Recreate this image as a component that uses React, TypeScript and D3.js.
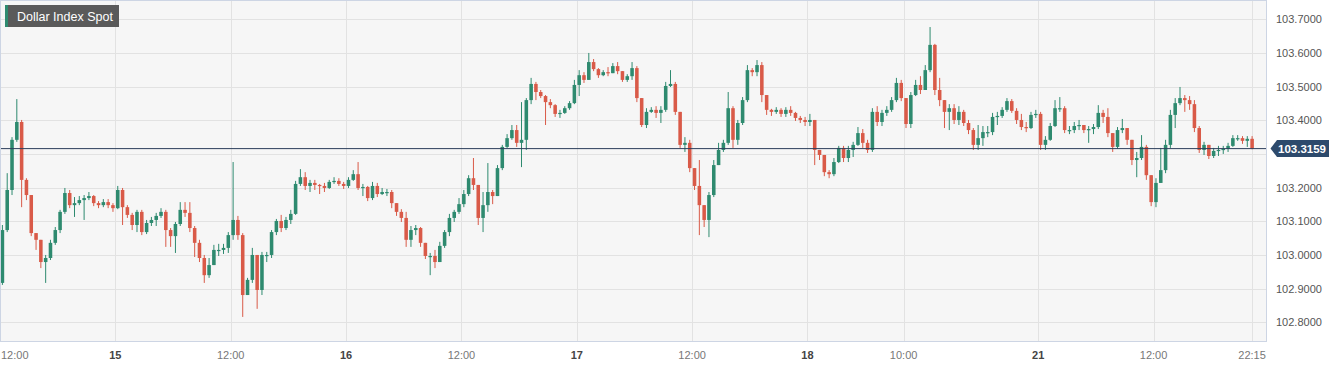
import { useMemo } from "react";
import * as d3 from "d3";

// 30-minute candles, 14th 12:00 -> 21st 22:15 (weekend gap removed)
const firstOpen = 102.917;

const closes = [
  103.074, 103.193, 103.342, 103.395, 103.223, 103.178, 103.065, 103.045, 102.979, 102.991,
  103.036, 103.074, 103.128, 103.184, 103.148, 103.154, 103.163, 103.169, 103.175, 103.154,
  103.148, 103.157, 103.148, 103.139, 103.193, 103.142, 103.119, 103.089, 103.128, 103.068,
  103.095, 103.104, 103.116, 103.128, 103.074, 103.056, 103.092, 103.134, 103.125, 103.080,
  103.036, 102.991, 102.940, 102.970, 103.015, 103.015, 103.021, 103.059, 103.104, 103.059,
  102.881, 102.926, 103.000, 102.896, 103.000, 103.000, 103.068, 103.101, 103.080, 103.104,
  103.122, 103.211, 103.231, 103.205, 103.214, 103.208, 103.205, 103.199, 103.217, 103.220,
  103.211, 103.205, 103.223, 103.240, 103.199, 103.202, 103.169, 103.205, 103.181, 103.187,
  103.187, 103.154, 103.128, 103.110, 103.045, 103.074, 103.080, 103.036, 102.997, 102.997,
  102.979, 103.027, 103.068, 103.110, 103.128, 103.151, 103.181, 103.228, 103.208, 103.110,
  103.148, 103.187, 103.175, 103.258, 103.321, 103.347, 103.371, 103.333, 103.342, 103.460,
  103.508, 103.484, 103.472, 103.454, 103.445, 103.419, 103.422, 103.436, 103.451, 103.505,
  103.534, 103.520, 103.573, 103.552, 103.534, 103.543, 103.540, 103.561, 103.546, 103.520,
  103.531, 103.555, 103.466, 103.386, 103.425, 103.431, 103.422, 103.431, 103.502, 103.508,
  103.425, 103.327, 103.333, 103.258, 103.205, 103.148, 103.104, 103.178, 103.267, 103.312,
  103.333, 103.436, 103.342, 103.392, 103.460, 103.549, 103.543, 103.564, 103.475, 103.431,
  103.425, 103.431, 103.419, 103.431, 103.422, 103.407, 103.401, 103.395, 103.401, 103.312,
  103.297, 103.246, 103.240, 103.276, 103.318, 103.288, 103.312, 103.327, 103.362, 103.333,
  103.312, 103.425, 103.395, 103.422, 103.431, 103.460, 103.511, 103.466, 103.389, 103.475,
  103.505, 103.490, 103.549, 103.624, 103.490, 103.460, 103.425, 103.436, 103.401, 103.425,
  103.392, 103.371, 103.327, 103.347, 103.365, 103.365, 103.410, 103.413, 103.431, 103.457,
  103.428, 103.401, 103.380, 103.377, 103.416, 103.419, 103.327, 103.342, 103.383, 103.436,
  103.436, 103.371, 103.371, 103.383, 103.386, 103.371, 103.374, 103.380, 103.422, 103.410,
  103.362, 103.321, 103.371, 103.377, 103.342, 103.282, 103.288, 103.321, 103.237, 103.157,
  103.214, 103.252, 103.327, 103.416, 103.451, 103.466, 103.460, 103.448, 103.377, 103.312,
  103.327, 103.294, 103.309, 103.312, 103.315, 103.324, 103.347, 103.347, 103.339, 103.345,
  103.3159
];

const highs = [
  103.089, 103.243, 103.350, 103.463, 103.401, 103.228, 103.178, 103.065, 103.045, 103.000,
  103.045, 103.083, 103.134, 103.199, 103.193, 103.172, 103.175, 103.178, 103.187, 103.178,
  103.160, 103.166, 103.166, 103.154, 103.205, 103.199, 103.148, 103.125, 103.134, 103.134,
  103.104, 103.113, 103.125, 103.139, 103.134, 103.080, 103.098, 103.157, 103.157, 103.157,
  103.086, 103.045, 103.000, 102.991, 103.030, 103.033, 103.033, 103.068, 103.276, 103.116,
  103.065, 102.932, 103.021, 102.976, 103.009, 103.009, 103.074, 103.107, 103.119, 103.113,
  103.134, 103.220, 103.255, 103.246, 103.223, 103.223, 103.211, 103.214, 103.223, 103.231,
  103.228, 103.217, 103.231, 103.252, 103.276, 103.211, 103.205, 103.217, 103.214, 103.199,
  103.196, 103.193, 103.154, 103.136, 103.128, 103.086, 103.089, 103.083, 103.036, 103.006,
  103.015, 103.039, 103.074, 103.122, 103.134, 103.169, 103.193, 103.237, 103.288, 103.205,
  103.187, 103.273, 103.193, 103.267, 103.327, 103.359, 103.386, 103.386, 103.454, 103.466,
  103.526, 103.514, 103.490, 103.475, 103.463, 103.448, 103.431, 103.442, 103.457, 103.520,
  103.549, 103.543, 103.600, 103.582, 103.555, 103.549, 103.558, 103.570, 103.573, 103.543,
  103.537, 103.573, 103.561, 103.448, 103.436, 103.439, 103.442, 103.442, 103.514, 103.549,
  103.514, 103.425, 103.350, 103.342, 103.258, 103.282, 103.148, 103.187, 103.282, 103.333,
  103.342, 103.484, 103.442, 103.401, 103.469, 103.564, 103.555, 103.579, 103.573, 103.460,
  103.434, 103.439, 103.436, 103.439, 103.442, 103.425, 103.413, 103.410, 103.419, 103.401,
  103.312, 103.294, 103.252, 103.288, 103.324, 103.324, 103.324, 103.336, 103.380, 103.374,
  103.342, 103.436, 103.442, 103.431, 103.442, 103.469, 103.526, 103.520, 103.460, 103.484,
  103.520, 103.531, 103.564, 103.677, 103.627, 103.526, 103.445, 103.448, 103.448, 103.442,
  103.431, 103.401, 103.377, 103.386, 103.383, 103.383, 103.422, 103.425, 103.439, 103.466,
  103.463, 103.436, 103.419, 103.395, 103.425, 103.431, 103.425, 103.353, 103.392, 103.460,
  103.469, 103.442, 103.383, 103.395, 103.401, 103.386, 103.383, 103.389, 103.445, 103.431,
  103.436, 103.362, 103.380, 103.404, 103.377, 103.342, 103.306, 103.356, 103.327, 103.223,
  103.228, 103.318, 103.342, 103.431, 103.466, 103.499, 103.475, 103.472, 103.460, 103.383,
  103.336, 103.312, 103.318, 103.324, 103.324, 103.333, 103.356, 103.356, 103.353, 103.353,
  103.353
];

const lows = [
  102.911, 103.068, 103.178, 103.336, 103.142, 103.163, 103.056, 103.015, 102.961, 102.917,
  102.985, 103.030, 103.065, 103.122, 103.139, 103.113, 103.148, 103.104, 103.163, 103.145,
  103.139, 103.142, 103.139, 103.128, 103.136, 103.089, 103.110, 103.074, 103.068, 103.059,
  103.062, 103.086, 103.086, 103.110, 103.024, 103.024, 103.006, 103.086, 103.113, 103.068,
  102.994, 102.979, 102.917, 102.932, 102.970, 102.997, 103.003, 103.006, 103.045, 103.045,
  102.816, 102.896, 102.917, 102.840, 102.881, 102.979, 102.991, 103.059, 103.068, 103.074,
  103.092, 103.119, 103.205, 103.193, 103.187, 103.193, 103.181, 103.187, 103.196, 103.211,
  103.205, 103.196, 103.199, 103.220, 103.193, 103.175, 103.160, 103.163, 103.172, 103.178,
  103.175, 103.139, 103.116, 103.098, 103.024, 103.024, 103.059, 103.024, 102.988, 102.940,
  102.961, 102.979, 103.021, 103.056, 103.098, 103.122, 103.142, 103.175, 103.193, 103.089,
  103.068, 103.128, 103.151, 103.178, 103.252, 103.318, 103.342, 103.321, 103.261, 103.312,
  103.448, 103.460, 103.466, 103.386, 103.436, 103.410, 103.407, 103.419, 103.431, 103.448,
  103.472, 103.511, 103.526, 103.546, 103.526, 103.531, 103.531, 103.540, 103.537, 103.514,
  103.514, 103.520, 103.454, 103.380, 103.377, 103.422, 103.407, 103.392, 103.425, 103.499,
  103.416, 103.318, 103.306, 103.246, 103.193, 103.059, 103.083, 103.053, 103.172, 103.267,
  103.306, 103.327, 103.318, 103.327, 103.386, 103.454, 103.531, 103.531, 103.454, 103.416,
  103.413, 103.419, 103.410, 103.410, 103.413, 103.398, 103.392, 103.383, 103.383, 103.267,
  103.282, 103.234, 103.228, 103.234, 103.273, 103.276, 103.276, 103.291, 103.324, 103.318,
  103.303, 103.306, 103.383, 103.383, 103.413, 103.425, 103.454, 103.457, 103.377, 103.377,
  103.472, 103.478, 103.490, 103.543, 103.475, 103.442, 103.377, 103.371, 103.389, 103.386,
  103.383, 103.359, 103.312, 103.312, 103.324, 103.350, 103.356, 103.386, 103.407, 103.425,
  103.422, 103.389, 103.371, 103.365, 103.374, 103.407, 103.312, 103.312, 103.339, 103.380,
  103.425, 103.362, 103.359, 103.362, 103.371, 103.362, 103.333, 103.359, 103.374, 103.392,
  103.350, 103.306, 103.315, 103.362, 103.327, 103.267, 103.231, 103.282, 103.223, 103.145,
  103.142, 103.228, 103.243, 103.318, 103.377, 103.445, 103.425, 103.431, 103.365, 103.303,
  103.297, 103.285, 103.288, 103.294, 103.300, 103.306, 103.321, 103.339, 103.330, 103.321,
  103.314
];

const lastPrice = 103.3159;

const priceTicks = [102.8, 102.9, 103.0, 103.1, 103.2, 103.3, 103.4, 103.5, 103.6, 103.7];

// positions in half-hour slots from the left edge
const timeTickSlots = [0, 24, 48, 72, 96, 120, 144, 168, 188, 216, 240, 260.5];
const timeTickLabels = ["12:00", "15", "12:00", "16", "12:00", "17", "12:00", "18", "10:00", "21", "12:00", "22:15"];

const WIDTH = 1344;
const HEIGHT = 368;
const PLOT_W = 1267;
const PLOT_H = 342;
const UP = "#2e8a6f";
const DOWN = "#d95a48";
const FONT = "Arial, 'Liberation Sans', sans-serif";

export default function App() {
  const x = useMemo(() => d3.scaleLinear().domain([0, 263.6]).range([0, PLOT_W]), []);
  const y = useMemo(() => d3.scaleLinear().domain([102.8, 103.7]).range([322.3, 19.3]), []);

  const candles = useMemo(
    () =>
      closes.map((close, i) => {
        const open = i === 0 ? firstOpen : closes[i - 1];
        return {
          i,
          open,
          close,
          high: Math.max(highs[i], open, close),
          low: Math.min(lows[i], open, close)
        };
      }),
    []
  );

  const step = x(1) - x(0);
  const bodyW = step * 0.74;
  const yLast = y(lastPrice);
  // the price tag sits on top of the nearest axis label, as in the original
  const visibleTicks = priceTicks.filter((p) => Math.abs(y(p) - yLast) > 10);

  return (
    <div style={{ position: "absolute", left: 0, top: 0 }}>
      <svg width={WIDTH} height={HEIGHT} style={{ display: "block", background: "#ffffff" }}>
        <rect x={0} y={0} width={PLOT_W} height={PLOT_H} fill="#f6f6f6" />

        {priceTicks.map((p) => (
          <line key={"h" + p} x1={0} x2={PLOT_W} y1={Math.round(y(p)) + 0.5} y2={Math.round(y(p)) + 0.5} stroke="#e2e2e2" strokeWidth={1} />
        ))}
        {timeTickSlots.slice(1).map((s) => (
          <line key={"v" + s} x1={Math.round(x(s)) + 0.5} x2={Math.round(x(s)) + 0.5} y1={0} y2={PLOT_H} stroke="#e2e2e2" strokeWidth={1} />
        ))}

        <g>
          {candles.map((c) => {
            const cx = x(c.i + 0.5);
            const color = c.close >= c.open ? UP : DOWN;
            const top = y(Math.max(c.open, c.close));
            const bottom = y(Math.min(c.open, c.close));
            return (
              <g key={c.i}>
                <line x1={cx} x2={cx} y1={y(c.high)} y2={y(c.low)} stroke={color} strokeWidth={1} />
                <rect x={cx - bodyW / 2} y={top} width={bodyW} height={Math.max(1.2, bottom - top)} fill={color} />
              </g>
            );
          })}
        </g>

        <line x1={0} x2={PLOT_W} y1={yLast} y2={yLast} stroke="#2b3d5a" strokeWidth={1} />

        <rect x={0.5} y={0.5} width={PLOT_W - 1} height={PLOT_H - 1} fill="none" stroke="#cdd5e4" strokeWidth={1} />

        {/* title badge */}
        <rect x={5} y={5} width={114} height={22} fill="#5a5a5a" />
        <rect x={5} y={5} width={3} height={22} fill="#2e8a6f" />
        <text x={17} y={20.5} fill="#ffffff" fontFamily={FONT} fontSize={12.5}>
          Dollar Index Spot
        </text>

        {/* right price axis */}
        {visibleTicks.map((p) => (
          <text key={"t" + p} x={1276} y={y(p) + 4} fill="#555555" fontFamily={FONT} fontSize={11}>
            {p.toFixed(4)}
          </text>
        ))}

        {/* last price tag */}
        <path
          d={`M1270.5,${yLast} L1277,${yLast - 8.5} L1329,${yLast - 8.5} L1329,${yLast + 8.5} L1277,${yLast + 8.5} Z`}
          fill="#2d4a6c"
        />
        <text x={1302} y={yLast + 4} fill="#ffffff" fontFamily={FONT} fontSize={11.5} fontWeight="bold" textAnchor="middle">
          {lastPrice.toFixed(4)}
        </text>

        {/* time axis */}
        {timeTickSlots.map((s, k) => {
          const label = timeTickLabels[k];
          const isDate = !label.includes(":");
          const first = k === 0;
          return (
            <text
              key={"x" + k}
              x={first ? 1 : x(s)}
              y={359}
              fill={isDate ? "#444444" : "#777777"}
              fontFamily={FONT}
              fontSize={11}
              fontWeight={isDate ? "bold" : "normal"}
              textAnchor={first ? "start" : "middle"}
            >
              {label}
            </text>
          );
        })}
      </svg>
    </div>
  );
}
